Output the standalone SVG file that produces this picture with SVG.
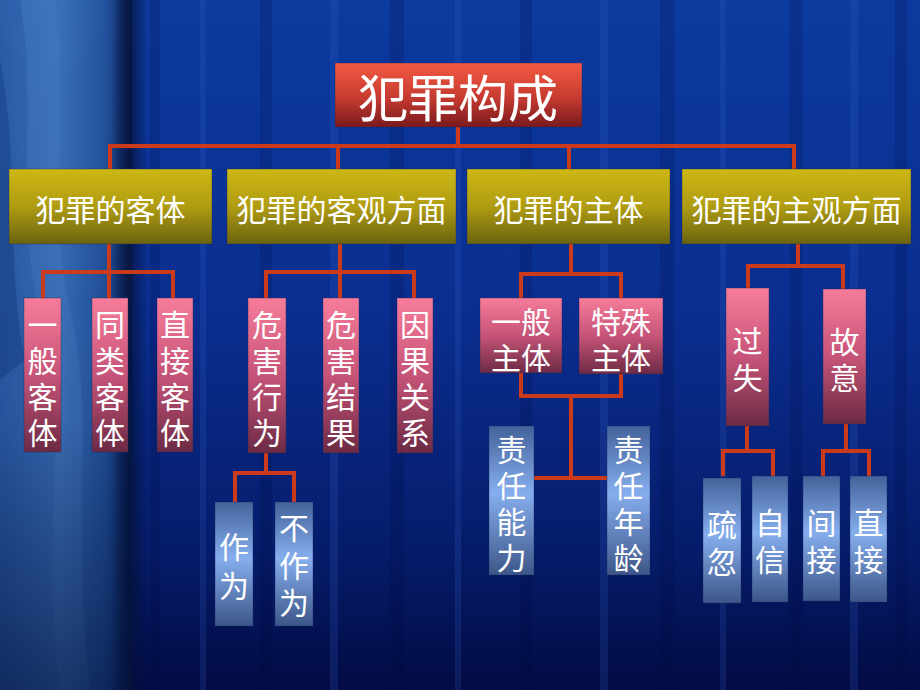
<svg xmlns="http://www.w3.org/2000/svg" width="920" height="690" viewBox="0 0 920 690">
<defs>
<linearGradient id="bgMain" x1="0" y1="0" x2="0" y2="1">
<stop offset="0" stop-color="#0c3a9e"/>
<stop offset="0.45" stop-color="#0a2e90"/>
<stop offset="0.8" stop-color="#061c6a"/>
<stop offset="1" stop-color="#020b44"/>
</linearGradient>
<linearGradient id="bgLeft" x1="0" y1="0" x2="1" y2="0">
<stop offset="0" stop-color="#2a5ca8"/>
<stop offset="0.45" stop-color="#3a70ba"/>
<stop offset="0.8" stop-color="#22539e"/>
<stop offset="1" stop-color="#0a2258"/>
</linearGradient>
<linearGradient id="bgLeftFade" x1="0" y1="0" x2="0" y2="1">
<stop offset="0" stop-color="#000a30" stop-opacity="0"/>
<stop offset="0.6" stop-color="#000a30" stop-opacity="0.1"/>
<stop offset="1" stop-color="#000a30" stop-opacity="0.6"/>
</linearGradient>
<linearGradient id="shade" x1="0" y1="0" x2="1" y2="0">
<stop offset="0" stop-color="#04113a" stop-opacity="0"/>
<stop offset="0.5" stop-color="#04113a" stop-opacity="0.75"/>
<stop offset="1" stop-color="#04113a" stop-opacity="0"/>
</linearGradient>
<linearGradient id="gTitle" x1="0" y1="0" x2="0" y2="1">
<stop offset="0" stop-color="#f35a42"/>
<stop offset="0.55" stop-color="#c53a30"/>
<stop offset="1" stop-color="#7a1a1e"/>
</linearGradient>
<linearGradient id="gGold" x1="0" y1="0" x2="0" y2="1">
<stop offset="0" stop-color="#cdb814"/>
<stop offset="0.5" stop-color="#b09c12"/>
<stop offset="1" stop-color="#6a6310"/>
</linearGradient>
<linearGradient id="gPink" x1="0" y1="0" x2="0" y2="1">
<stop offset="0" stop-color="#f77c9a"/>
<stop offset="0.5" stop-color="#c65478"/>
<stop offset="1" stop-color="#6c2a44"/>
</linearGradient>
<linearGradient id="gBlue" x1="0" y1="0" x2="0" y2="1">
<stop offset="0" stop-color="#43629a"/>
<stop offset="0.45" stop-color="#86aeee"/>
<stop offset="1" stop-color="#3d5688"/>
</linearGradient>
<style>
.t{font-family:"Noto Sans CJK SC","Noto Sans",sans-serif;fill:#ffffff;text-anchor:middle}
.t30{font-size:30px}
.t28{font-size:28px}
.title{font-size:50px}
.conn{fill:none;stroke:#cc3a1c;stroke-width:4;stroke-linejoin:miter;stroke-linecap:butt}
.box{stroke:#1a2a60;stroke-width:0.6;stroke-opacity:0.6}
</style>
</defs>

<g id="background">
<rect x="0" y="0" width="920" height="690" fill="url(#bgMain)"/>
<g opacity="0.18">
<rect x="150" y="0" width="10" height="690" fill="#000a40"/>
<rect x="200" y="0" width="6" height="690" fill="#3a6ad0"/>
<rect x="260" y="0" width="12" height="690" fill="#000a40"/>
<rect x="330" y="0" width="8" height="690" fill="#3a6ad0"/>
<rect x="390" y="0" width="14" height="690" fill="#000a40"/>
<rect x="455" y="0" width="6" height="690" fill="#3a6ad0"/>
<rect x="520" y="0" width="12" height="690" fill="#000a40"/>
<rect x="600" y="0" width="8" height="690" fill="#3a6ad0"/>
<rect x="660" y="0" width="14" height="690" fill="#000a40"/>
<rect x="720" y="0" width="6" height="690" fill="#3a6ad0"/>
<rect x="790" y="0" width="12" height="690" fill="#000a40"/>
<rect x="850" y="0" width="8" height="690" fill="#3a6ad0"/>
<rect x="895" y="0" width="12" height="690" fill="#000a40"/>
</g>
<rect x="0" y="0" width="132" height="690" fill="url(#bgLeft)"/>
<path d="M20,0 C40,120 10,220 45,330 C70,420 40,520 60,690 L90,690 C70,520 95,420 72,320 C45,210 70,110 55,0 Z" fill="#4a82c8" opacity="0.35"/>
<path d="M0,60 C20,160 5,260 25,360 L0,380 Z" fill="#123a80" opacity="0.4"/>
<rect x="0" y="0" width="132" height="690" fill="url(#bgLeftFade)"/>
<rect x="112" y="0" width="36" height="690" fill="url(#shade)"/>
</g>

<g id="connectors" class="conn">
<path d="M458,127 V146"/>
<path d="M110,169 V146 H794 V169"/>
<path d="M338,146 V169"/>
<path d="M569,146 V169"/>
<path d="M109,244 V298"/>
<path d="M43,298 V272 H173 V298"/>
<path d="M340,244 V298"/>
<path d="M266,298 V272 H414 V298"/>
<path d="M266,453 V473"/>
<path d="M235,502 V473 H294 V502"/>
<path d="M571,244 V274"/>
<path d="M521,298 V274 H621 V298"/>
<path d="M521,373 V396 H621 V374"/>
<path d="M571,396 V478"/>
<path d="M534,478 H607"/>
<path d="M798,244 V266"/>
<path d="M748,288 V266 H843 V289"/>
<path d="M747,426 V451"/>
<path d="M723,476 V451 H773 V476"/>
<path d="M846,424 V451"/>
<path d="M823,476 V451 H869 V476"/>
</g>

<g id="root">
<rect class="box" x="335" y="63" width="247" height="64" fill="url(#gTitle)"/>
<text class="t title" x="458" y="117">犯罪构成</text>
</g>

<g id="keti">
<rect class="box" x="9" y="169" width="203" height="75" fill="url(#gGold)"/>
<text class="t t30" x="110.5" y="221">犯罪的客体</text>
</g>
<g id="keguan">
<rect class="box" x="227" y="169" width="229" height="75" fill="url(#gGold)"/>
<text class="t t30" x="341.5" y="221">犯罪的客观方面</text>
</g>
<g id="zhuti">
<rect class="box" x="467" y="169" width="203" height="75" fill="url(#gGold)"/>
<text class="t t30" x="568.5" y="221">犯罪的主体</text>
</g>
<g id="zhuguan">
<rect class="box" x="682" y="169" width="229" height="75" fill="url(#gGold)"/>
<text class="t t30" x="796.5" y="221">犯罪的主观方面</text>
</g>

<g id="yibanketi">
<rect class="box" x="24" y="298" width="37" height="154" fill="url(#gPink)"/>
<text class="t t30" x="42.5" y="336"><tspan x="42.5">一</tspan><tspan x="42.5" dy="36">般</tspan><tspan x="42.5" dy="36">客</tspan><tspan x="42.5" dy="36">体</tspan></text>
</g>
<g id="tongleiketi">
<rect class="box" x="92" y="298" width="36" height="154" fill="url(#gPink)"/>
<text class="t t30" x="110" y="336"><tspan x="110">同</tspan><tspan x="110" dy="36">类</tspan><tspan x="110" dy="36">客</tspan><tspan x="110" dy="36">体</tspan></text>
</g>
<g id="zhijieketi">
<rect class="box" x="157" y="298" width="36" height="154" fill="url(#gPink)"/>
<text class="t t30" x="175" y="336"><tspan x="175">直</tspan><tspan x="175" dy="36">接</tspan><tspan x="175" dy="36">客</tspan><tspan x="175" dy="36">体</tspan></text>
</g>

<g id="weihaixingwei">
<rect class="box" x="248" y="298" width="38" height="155" fill="url(#gPink)"/>
<text class="t t30" x="267" y="336"><tspan x="267">危</tspan><tspan x="267" dy="36">害</tspan><tspan x="267" dy="36">行</tspan><tspan x="267" dy="36">为</tspan></text>
</g>
<g id="weihaijieguo">
<rect class="box" x="323" y="298" width="36" height="155" fill="url(#gPink)"/>
<text class="t t30" x="341" y="336"><tspan x="341">危</tspan><tspan x="341" dy="36">害</tspan><tspan x="341" dy="36">结</tspan><tspan x="341" dy="36">果</tspan></text>
</g>
<g id="yinguoguanxi">
<rect class="box" x="397" y="298" width="36" height="155" fill="url(#gPink)"/>
<text class="t t30" x="415" y="336"><tspan x="415">因</tspan><tspan x="415" dy="36">果</tspan><tspan x="415" dy="36">关</tspan><tspan x="415" dy="36">系</tspan></text>
</g>

<g id="zuowei">
<rect class="box" x="215" y="502" width="38" height="124" fill="url(#gBlue)"/>
<text class="t t30" x="234" y="558"><tspan x="234">作</tspan><tspan x="234" dy="39">为</tspan></text>
</g>
<g id="buzuowei">
<rect class="box" x="275" y="502" width="38" height="124" fill="url(#gBlue)"/>
<text class="t t30" x="294" y="539"><tspan x="294">不</tspan><tspan x="294" dy="38">作</tspan><tspan x="294" dy="37">为</tspan></text>
</g>

<g id="yibanzhuti">
<rect class="box" x="480" y="298" width="82" height="75" fill="url(#gPink)"/>
<text class="t t30" x="521" y="333"><tspan x="521">一般</tspan><tspan x="521" dy="36">主体</tspan></text>
</g>
<g id="teshuzhuti">
<rect class="box" x="579" y="298" width="84" height="76" fill="url(#gPink)"/>
<text class="t t30" x="621" y="333"><tspan x="621">特殊</tspan><tspan x="621" dy="36">主体</tspan></text>
</g>

<g id="zerennengli">
<rect class="box" x="489" y="426" width="45" height="149" fill="url(#gBlue)"/>
<text class="t t30" x="511.5" y="461"><tspan x="511.5">责</tspan><tspan x="511.5" dy="36">任</tspan><tspan x="511.5" dy="36">能</tspan><tspan x="511.5" dy="36">力</tspan></text>
</g>
<g id="zerennianling">
<rect class="box" x="607" y="426" width="43" height="149" fill="url(#gBlue)"/>
<text class="t t30" x="628.5" y="461"><tspan x="628.5">责</tspan><tspan x="628.5" dy="36">任</tspan><tspan x="628.5" dy="36">年</tspan><tspan x="628.5" dy="36">龄</tspan></text>
</g>

<g id="guoshi">
<rect class="box" x="726" y="288" width="43" height="138" fill="url(#gPink)"/>
<text class="t t30" x="747.5" y="352"><tspan x="747.5">过</tspan><tspan x="747.5" dy="37">失</tspan></text>
</g>
<g id="guyi">
<rect class="box" x="823" y="289" width="43" height="135" fill="url(#gPink)"/>
<text class="t t30" x="844.5" y="353"><tspan x="844.5">故</tspan><tspan x="844.5" dy="36">意</tspan></text>
</g>

<g id="shuhu">
<rect class="box" x="703" y="478" width="38" height="125" fill="url(#gBlue)"/>
<text class="t t30" x="722" y="536"><tspan x="722">疏</tspan><tspan x="722" dy="37">忽</tspan></text>
</g>
<g id="zixin">
<rect class="box" x="752" y="476" width="36" height="126" fill="url(#gBlue)"/>
<text class="t t30" x="770" y="534"><tspan x="770">自</tspan><tspan x="770" dy="37">信</tspan></text>
</g>
<g id="jianjie">
<rect class="box" x="803" y="476" width="37" height="125" fill="url(#gBlue)"/>
<text class="t t30" x="821.5" y="534"><tspan x="821.5">间</tspan><tspan x="821.5" dy="37">接</tspan></text>
</g>
<g id="zhijie">
<rect class="box" x="850" y="476" width="37" height="126" fill="url(#gBlue)"/>
<text class="t t30" x="868.5" y="534"><tspan x="868.5">直</tspan><tspan x="868.5" dy="37">接</tspan></text>
</g>
</svg>
